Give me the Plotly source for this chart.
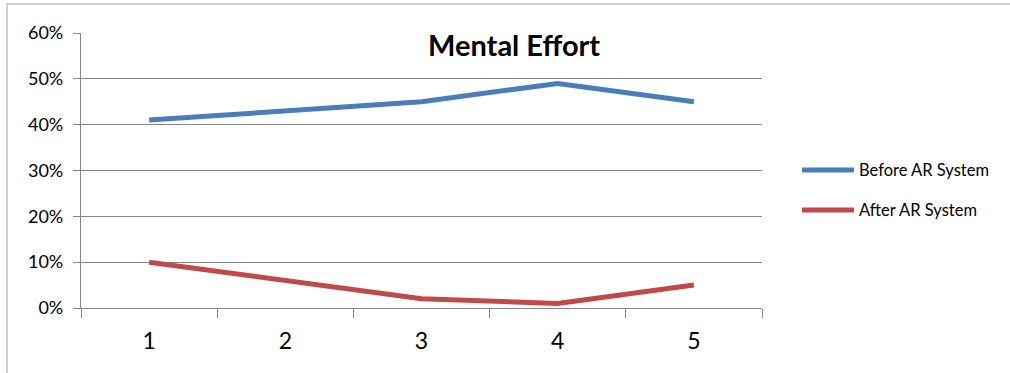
import plotly.graph_objects as go

# Survey rounds and mental-effort shares (percent)
rounds = ["1", "2", "3", "4", "5"]
before_ar = [41, 43, 45, 49, 45]
after_ar = [10, 6, 2, 1, 5]
y_ticks = [0, 10, 20, 30, 40, 50, 60]
y_tick_labels = [f"{v}%" for v in y_ticks]

series_names = ["Before AR System", "After AR System"]
series_colors = ["#4A7EBB", "#BE4B48"]

W, H = 1010, 373
L, R, T, B = 81, 248, 33, 65
pw, ph = W - L - R, H - T - B


def px_x(p):
    return (p - L) / pw


def px_y(p):
    return (H - B - p) / ph


FONT = "Lato"
GRID = "#868686"

fig = go.Figure()
for name, vals, col in zip(series_names, [before_ar, after_ar], series_colors):
    fig.add_trace(go.Scatter(
        x=rounds, y=vals, mode="lines", name=name,
        line=dict(color=col, width=5), showlegend=False,
    ))

shapes = [
    # outer chart frame (left and top edges visible)
    dict(type="rect", xref="paper", yref="paper",
         x0=px_x(7), x1=px_x(1040), y0=px_y(4), y1=px_y(420),
         line=dict(color="#BFBFBF", width=1.5), layer="below"),
]
annotations = [
    dict(text="<b>Mental Effort</b>", xref="paper", yref="paper",
         x=px_x(514), y=px_y(45), xanchor="center", yanchor="middle",
         showarrow=False, font=dict(family=FONT, size=29, color="#000")),
]
# legend entries
for i, (name, col) in enumerate(zip(series_names, series_colors)):
    yy = px_y(170 + 40 * i)
    shapes.append(dict(type="line", xref="paper", yref="paper",
                       x0=px_x(802), x1=px_x(854), y0=yy, y1=yy,
                       line=dict(color=col, width=5)))
    annotations.append(dict(text=name, xref="paper", yref="paper",
                            x=px_x(857), y=yy, xanchor="left", yanchor="middle",
                            showarrow=False,
                            font=dict(family=FONT, size=16.5, color="#000")))

fig.update_layout(
    width=W, height=H,
    margin=dict(l=L, r=R, t=T, b=B, pad=0),
    paper_bgcolor="white", plot_bgcolor="white",
    shapes=shapes, annotations=annotations,
    showlegend=False,
    xaxis=dict(
        type="category", tickson="boundaries", range=[-0.5, 4.5],
        showgrid=False, showline=True, linecolor=GRID, linewidth=1.3,
        ticks="outside", ticklen=9, tickcolor=GRID, tickwidth=1.3,
        ticklabelstandoff=12,
        tickfont=dict(family=FONT, size=23, color="#000"),
        zeroline=False,
    ),
    yaxis=dict(
        range=[0, 60], tickvals=y_ticks, ticktext=y_tick_labels,
        showgrid=True, gridcolor=GRID, gridwidth=1.3,
        showline=True, linecolor=GRID, linewidth=1.3,
        ticks="outside", ticklen=7, tickcolor=GRID, tickwidth=1.3,
        ticklabelstandoff=6,
        tickfont=dict(family=FONT, size=18, color="#000"),
        zeroline=False,
    ),
)

fig.write_html("out.html")
